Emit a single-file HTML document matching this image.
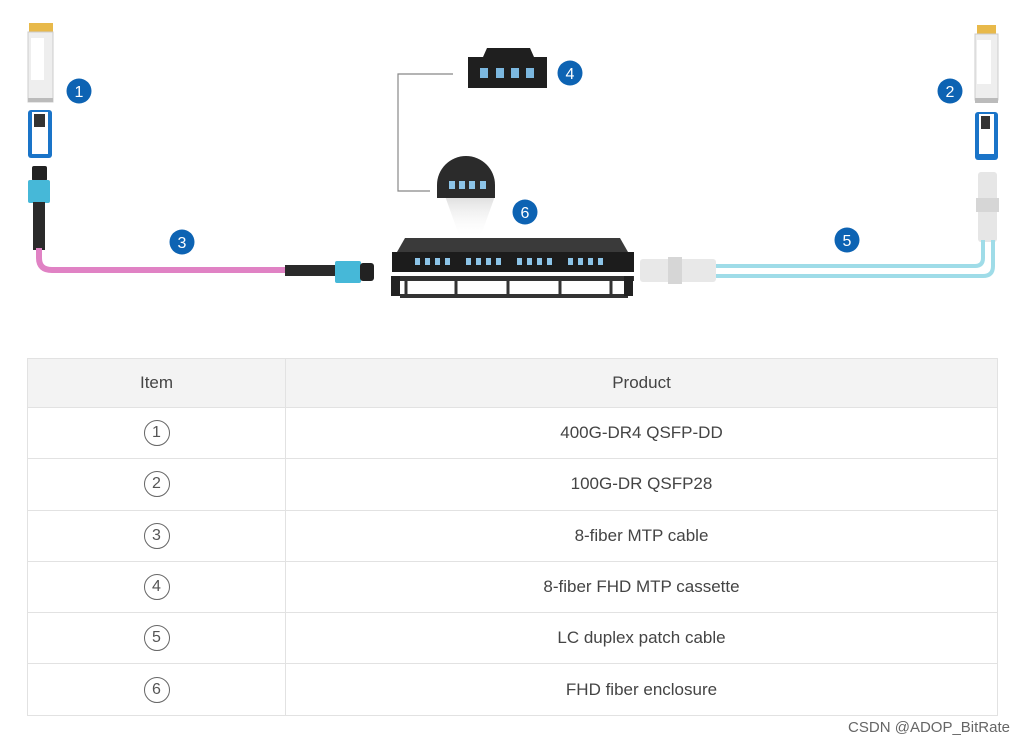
<!DOCTYPE html>
<html><head><meta charset="utf-8"><style>
body{margin:0;width:1024px;height:747px;background:#fff;font-family:"Liberation Sans",sans-serif;position:relative;overflow:hidden}
table{position:absolute;left:27px;top:358px;width:971px;border-collapse:collapse;color:#444;font-size:17px}
td{border:1px solid #e2e2e2;text-align:center;height:50px;padding:0}
tr.r td{height:50.3px}
tr.h td{background:#f3f3f3;height:48px}
.c{display:inline-block;width:24px;height:24px;border:1.3px solid #666;border-radius:50%;line-height:24px;font-size:16px;color:#555}
.wm{position:absolute;right:14px;top:719px;font-size:15px;color:#666}
</style></head><body>
<svg width="1024" height="350" style="position:absolute;left:0;top:0">
<defs>
<linearGradient id="fn" x1="0" y1="0" x2="0" y2="1"><stop offset="0" stop-color="#ddd"/><stop offset="1" stop-color="#fff" stop-opacity="0"/></linearGradient>
</defs>
<rect x="29" y="23" width="24" height="10" fill="#e8b94a"/>
<rect x="28" y="32" width="25" height="70" fill="#eee" stroke="#ccc"/>
<rect x="31" y="38" width="13" height="42" fill="#fff"/>
<rect x="28" y="98" width="25" height="4" fill="#bbb"/>
<rect x="28" y="110" width="24" height="48" rx="3" fill="#1a74c8"/>
<rect x="32" y="112" width="16" height="42" fill="#fff"/>
<rect x="34" y="114" width="11" height="13" fill="#333"/>
<rect x="32" y="166" width="15" height="15" rx="2" fill="#222"/>
<rect x="28" y="180" width="22" height="23" rx="2" fill="#46b8d8"/>
<rect x="33" y="202" width="12" height="48" fill="#2a2a2a"/>
<path d="M39 248 V258 Q39 270 52 270 H290" fill="none" stroke="#e082c4" stroke-width="6"/>
<rect x="285" y="265" width="50" height="11" fill="#2a2a2a"/>
<rect x="335" y="261" width="26" height="22" rx="2" fill="#46b8d8"/>
<rect x="360" y="263" width="14" height="18" rx="3" fill="#222"/>
<rect x="977" y="25" width="19" height="10" fill="#e8b94a"/>
<rect x="975" y="34" width="23" height="66" fill="#eee" stroke="#ccc"/>
<rect x="977" y="40" width="14" height="44" fill="#fff"/>
<rect x="975" y="98" width="23" height="5" fill="#bbb"/>
<rect x="975" y="112" width="23" height="48" rx="3" fill="#1a74c8"/>
<rect x="979" y="114" width="15" height="40" fill="#fff"/>
<rect x="981" y="116" width="9" height="13" fill="#333"/>
<rect x="978" y="172" width="19" height="70" rx="3" fill="#e6e6e6"/>
<rect x="976" y="198" width="23" height="14" fill="#d6d6d6"/>
<path d="M983 240 V258 Q983 266 975 266 H715" fill="none" stroke="#9fdce8" stroke-width="4"/>
<path d="M993 240 V266 Q993 276 983 276 H715" fill="none" stroke="#9fdce8" stroke-width="4"/>
<rect x="640" y="259" width="76" height="23" rx="3" fill="#e8e8e8"/>
<rect x="668" y="257" width="14" height="27" fill="#d6d6d6"/>
<path d="M453 74 H398 V191 H430" fill="none" stroke="#888" stroke-width="1.2"/>
<path d="M468 57 H483 L487 48 H530 L534 57 H547 V88 H468 Z" fill="#1f1f1f"/>
<g fill="#7cb8e0"><rect x="480" y="68" width="8" height="10"/><rect x="496" y="68" width="8" height="10"/><rect x="511" y="68" width="8" height="10"/><rect x="526" y="68" width="8" height="10"/></g>
<path d="M445 196 L495 196 L480 238 L460 238 Z" fill="url(#fn)"/>
<path d="M437 198 V185 A29 29 0 0 1 495 185 V198 Z" fill="#2b2b2b"/>
<g fill="#8cc4e8"><rect x="449" y="181" width="6" height="8"/><rect x="459" y="181" width="6" height="8"/><rect x="469" y="181" width="6" height="8"/><rect x="480" y="181" width="6" height="8"/></g>
<path d="M405 238 H620 L628 252 H397 Z" fill="#3a3a3a"/>
<rect x="392" y="252" width="242" height="20" fill="#1c1c1c"/>
<g fill="#8cc4e8">
<rect x="415" y="258" width="5" height="7"/><rect x="425" y="258" width="5" height="7"/><rect x="435" y="258" width="5" height="7"/><rect x="445" y="258" width="5" height="7"/>
<rect x="466" y="258" width="5" height="7"/><rect x="476" y="258" width="5" height="7"/><rect x="486" y="258" width="5" height="7"/><rect x="496" y="258" width="5" height="7"/>
<rect x="517" y="258" width="5" height="7"/><rect x="527" y="258" width="5" height="7"/><rect x="537" y="258" width="5" height="7"/><rect x="547" y="258" width="5" height="7"/>
<rect x="568" y="258" width="5" height="7"/><rect x="578" y="258" width="5" height="7"/><rect x="588" y="258" width="5" height="7"/><rect x="598" y="258" width="5" height="7"/>
</g>
<rect x="392" y="276" width="242" height="5" fill="#333"/>
<path d="M400 296 H628" stroke="#333" stroke-width="4"/>
<g stroke="#333" stroke-width="3"><path d="M406 280 V296"/><path d="M456 280 V296"/><path d="M508 280 V296"/><path d="M560 280 V296"/><path d="M611 280 V296"/></g>
<rect x="391" y="276" width="9" height="20" fill="#222"/><rect x="624" y="276" width="9" height="20" fill="#222"/>
<g font-size="16" fill="#fff" text-anchor="middle" font-family="Liberation Sans,sans-serif">
<circle cx="79" cy="91" r="12.5" fill="#0d63b3"/><text x="79" y="97">1</text>
<circle cx="950" cy="91" r="12.5" fill="#0d63b3"/><text x="950" y="97">2</text>
<circle cx="182" cy="242" r="12.5" fill="#0d63b3"/><text x="182" y="248">3</text>
<circle cx="570" cy="73" r="12.5" fill="#0d63b3"/><text x="570" y="79">4</text>
<circle cx="847" cy="240" r="12.5" fill="#0d63b3"/><text x="847" y="246">5</text>
<circle cx="525" cy="212" r="12.5" fill="#0d63b3"/><text x="525" y="218">6</text>
</g>
</svg>
<table>
<tr class="h"><td style="width:257px">Item</td><td>Product</td></tr>
<tr class="r"><td><span class="c">1</span></td><td>400G-DR4 QSFP-DD</td></tr>
<tr class="r"><td><span class="c">2</span></td><td>100G-DR QSFP28</td></tr>
<tr class="r"><td><span class="c">3</span></td><td>8-fiber MTP cable</td></tr>
<tr class="r"><td><span class="c">4</span></td><td>8-fiber FHD MTP cassette</td></tr>
<tr class="r"><td><span class="c">5</span></td><td>LC duplex patch cable</td></tr>
<tr class="r"><td><span class="c">6</span></td><td>FHD fiber enclosure</td></tr>
</table>
<div class="wm">CSDN @ADOP_BitRate</div>
</body></html>
